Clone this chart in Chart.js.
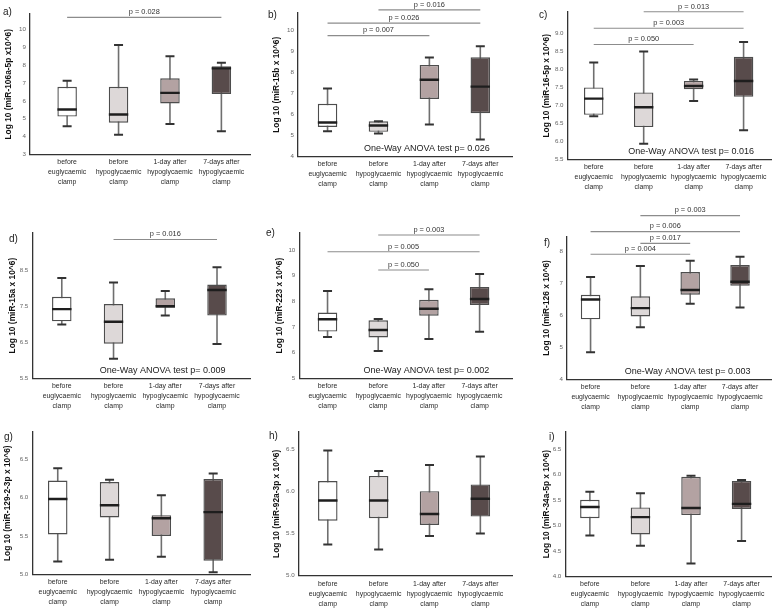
<!DOCTYPE html>
<html><head><meta charset="utf-8">
<script src="https://cdn.jsdelivr.net/npm/chart.js@4.4.0/dist/chart.umd.min.js"></script>
<style>
html,body{margin:0;padding:0;background:#fff;width:784px;height:612px;overflow:hidden}
body{position:relative}
canvas{position:absolute}
.lt{position:absolute;font-size:10px;color:#222;line-height:10px;white-space:nowrap}
</style></head><body>
<script>
const FONT = "'Liberation Sans',Arial,sans-serif";

const categories = [
  ['before', 'euglycaemic', 'clamp'],
  ['before', 'hypoglycaemic', 'clamp'],
  ['1-day after', 'hypoglycaemic', 'clamp'],
  ['7-days after', 'hypoglycaemic', 'clamp']
];
const groupPos = [1, 2, 3, 4];

// a) miR-106a-5p
const a_min = [4.58, 4.10, 4.71, 4.30];
const a_q1  = [5.12, 4.78, 5.86, 6.38];
const a_med = [5.52, 5.24, 6.45, 7.82];
const a_q3  = [6.79, 6.79, 7.26, 7.94];
const a_max = [7.12, 9.12, 8.50, 8.13];
const a_ticks = [3, 4, 5, 6, 7, 8, 9, 10];
const a_pairs = [[1, 4]];
const a_pvals = ['p = 0.028'];
const a_anova = '';

// b) miR-15b
const b_min = [5.20, 5.09, 5.52, 4.81];
const b_q1  = [5.40, 5.17, 6.73, 6.05];
const b_med = [5.61, 5.47, 7.64, 7.31];
const b_q3  = [6.50, 5.67, 8.34, 8.70];
const b_max = [7.22, 5.67, 8.69, 9.23];
const b_ticks = [4, 5, 6, 7, 8, 9, 10];
const b_pairs = [[1, 3], [1, 4], [2, 4]];
const b_pvals = ['p = 0.007', 'p = 0.026', 'p = 0.016'];
const b_anova = 'One-Way ANOVA test p= 0.026';

// c) miR-16-5p
const c_min = [6.70, 5.94, 7.12, 6.31];
const c_q1  = [6.74, 6.40, 7.45, 7.24];
const c_med = [7.19, 6.95, 7.54, 7.68];
const c_q3  = [7.50, 7.36, 7.68, 8.35];
const c_max = [8.19, 8.50, 7.72, 8.76];
const c_ticks = [5.5, 6.0, 6.5, 7.0, 7.5, 8.0, 8.5, 9.0];
const c_pairs = [[1, 3], [1, 4], [2, 4]];
const c_pvals = ['p = 0.050', 'p = 0.003', 'p = 0.013'];
const c_anova = 'One-Way ANOVA test p= 0.016';

// d) miR-15a
const d_min = [6.99, 6.04, 7.24, 6.45];
const d_q1  = [7.08, 6.46, 7.46, 7.24];
const d_med = [7.42, 7.07, 7.50, 7.95];
const d_q3  = [7.76, 7.56, 7.72, 8.10];
const d_max = [8.28, 8.16, 7.92, 8.58];
const d_ticks = [5.5, 6.5, 7.5, 8.5];
const d_pairs = [[2, 4]];
const d_pvals = ['p = 0.016'];
const d_anova = 'One-Way ANOVA test p= 0.009';

// e) miR-223
const e_min = [6.61, 6.06, 6.53, 6.81];
const e_q1  = [6.82, 6.59, 7.44, 7.86];
const e_med = [7.30, 6.88, 7.71, 8.09];
const e_q3  = [7.56, 7.26, 8.06, 8.56];
const e_max = [8.40, 7.31, 8.47, 9.06];
const e_ticks = [5, 6, 7, 8, 9, 10];
const e_pairs = [[2, 3], [1, 4], [2, 4]];
const e_pvals = ['p = 0.050', 'p = 0.005', 'p = 0.003'];
const e_anova = 'One-Way ANOVA test p= 0.002';

// f) miR-126
const f_min = [4.85, 5.63, 6.37, 6.25];
const f_q1  = [5.88, 5.97, 6.65, 6.93];
const f_med = [6.50, 6.23, 6.80, 7.06];
const f_q3  = [6.65, 6.60, 7.36, 7.58];
const f_max = [7.21, 7.55, 7.72, 7.84];
const f_ticks = [4, 5, 6, 7, 8];
const f_pairs = [[1, 3], [2, 3], [1, 4], [2, 4]];
const f_pvals = ['p = 0.004', 'p = 0.017', 'p = 0.006', 'p = 0.003'];
const f_anova = 'One-Way ANOVA test p= 0.003';

// g) miR-129-2-3p
const g_min = [5.17, 5.19, 5.23, 5.03];
const g_q1  = [5.52, 5.74, 5.50, 5.18];
const g_med = [5.98, 5.90, 5.73, 5.81];
const g_q3  = [6.22, 6.20, 5.77, 6.24];
const g_max = [6.38, 6.23, 6.03, 6.31];
const g_ticks = [5.0, 5.5, 6.0, 6.5];

// h) miR-92a-3p
const h_min = [5.37, 5.31, 5.47, 5.50];
const h_q1  = [5.65, 5.68, 5.60, 5.70];
const h_med = [5.89, 5.89, 5.73, 5.91];
const h_q3  = [6.12, 6.18, 6.00, 6.08];
const h_max = [6.48, 6.24, 6.31, 6.41];
const h_ticks = [5.0, 5.5, 6.0, 6.5];

// i) miR-34a-5p
const i_min = [4.80, 4.60, 4.25, 4.69];
const i_q1  = [5.14, 4.82, 5.20, 5.32];
const i_med = [5.36, 5.16, 5.34, 5.42];
const i_q3  = [5.50, 5.35, 5.95, 5.87];
const i_max = [5.66, 5.63, 5.97, 5.89];
const i_ticks = [4.0, 4.5, 5.0, 5.5, 6.0, 6.5];

const fills = ['#ffffff', '#ddd8d8', '#b3a2a2', '#584b4b'];

const panels = [
  {letter:'a)', title:'Log 10 (miR-106a-5p x10^6)', min:a_min,q1:a_q1,med:a_med,q3:a_q3,max:a_max,ticks:a_ticks,dec:0,pairs:a_pairs,pvals:a_pvals,anova:a_anova,
   lay:{cx:0,cy:0,cw:263,ch:192,L:30,T:14,R:262,B:154.5,ymin:3,ymax:10.86,xmin:0.278,xmax:4.574,tOff:9,lx:3,ly:7,bY:[10.67]}},
  {letter:'b)', title:'Log 10 (miR-15b x 10^6)', min:b_min,q1:b_q1,med:b_med,q3:b_q3,max:b_max,ticks:b_ticks,dec:0,pairs:b_pairs,pvals:b_pvals,anova:b_anova,
   lay:{cx:263,cy:0,cw:262,ch:192,L:298,T:13,R:524,B:156.5,ymin:4,ymax:10.8,xmin:0.42,xmax:4.64,tOff:14,lx:268,ly:10,bY:[9.73,10.32,10.95]}},
  {letter:'c)', title:'Log 10 (miR-16-5p x 10^6)', min:c_min,q1:c_q1,med:c_med,q3:c_q3,max:c_max,ticks:c_ticks,dec:1,pairs:c_pairs,pvals:c_pvals,anova:c_anova,
   lay:{cx:525,cy:0,cw:259,ch:192,L:567.5,T:12,R:784,B:159.5,ymin:5.5,ymax:9.59,xmin:0.475,xmax:4.567,tOff:22,lx:539,ly:10,bY:[8.69,9.14,9.6]}},
  {letter:'d)', title:'Log 10 (miR-15a x 10^6)', min:d_min,q1:d_q1,med:d_med,q3:d_q3,max:d_max,ticks:d_ticks,dec:1,pairs:d_pairs,pvals:d_pvals,anova:d_anova,
   lay:{cx:0,cy:192,cw:263,ch:222,L:32.3,T:233,R:260,B:378.3,ymin:5.5,ymax:9.53,xmin:0.43,xmax:4.655,tOff:13,lx:9,ly:234,bY:[9.35]}},
  {letter:'e)', title:'Log 10 (miR-223 x 10^6)', min:e_min,q1:e_q1,med:e_med,q3:e_q3,max:e_max,ticks:e_ticks,dec:0,pairs:e_pairs,pvals:e_pvals,anova:e_anova,
   lay:{cx:263,cy:192,cw:262,ch:222,L:299.3,T:233,R:524,B:378.3,ymin:5,ymax:10.66,xmin:0.443,xmax:4.657,tOff:17,lx:266,ly:228,bY:[9.22,9.93,10.58]}},
  {letter:'f)', title:'Log 10 (miR-126 x 10^6)', min:f_min,q1:f_q1,med:f_med,q3:f_q3,max:f_max,ticks:f_ticks,dec:0,pairs:f_pairs,pvals:f_pvals,anova:f_anova,
   lay:{cx:525,cy:192,cw:259,ch:222,L:567,T:236.7,R:784,B:379.3,ymin:4,ymax:8.47,xmin:0.527,xmax:4.64,tOff:22,lx:544,ly:238,bY:[7.92,8.26,8.63,9.13]}},
  {letter:'g)', title:'Log 10 (miR-129-2-3p x 10^6)', min:g_min,q1:g_q1,med:g_med,q3:g_q3,max:g_max,ticks:g_ticks,dec:1,pairs:[],pvals:[],anova:'',
   lay:{cx:0,cy:414,cw:263,ch:198,L:32.3,T:432,R:260,B:574.5,ymin:5,ymax:6.85,xmin:0.509,xmax:4.728,tOff:8,lx:4,ly:432,bY:[]}},
  {letter:'h)', title:'Log 10 (miR-92a-3p x 10^6)', min:h_min,q1:h_q1,med:h_med,q3:h_q3,max:h_max,ticks:h_ticks,dec:1,pairs:[],pvals:[],anova:'',
   lay:{cx:263,cy:414,cw:262,ch:198,L:298.7,T:432,R:524,B:575.7,ymin:5,ymax:6.7,xmin:0.428,xmax:4.64,tOff:14,lx:269,ly:431,bY:[]}},
  {letter:'i)', title:'Log 10 (miR-34a-5p x 10^6)', min:i_min,q1:i_q1,med:i_med,q3:i_q3,max:i_max,ticks:i_ticks,dec:1,pairs:[],pvals:[],anova:'',
   lay:{cx:525,cy:414,cw:259,ch:198,L:565.3,T:432,R:784,B:576.3,ymin:4,ymax:6.83,xmin:0.514,xmax:4.6,tOff:22,lx:549,ly:432,bY:[]}}
];

const annotPlugin = {
  id: 'annot',
  afterDraw(chart, args, opts) {
    const {ctx, chartArea} = chart;
    const x = chart.scales.x, y = chart.scales.y;
    ctx.save();
    (opts.pairs || []).forEach((pr, k) => {
      const yy = y.getPixelForValue(opts.levels[k]);
      const x1 = x.getPixelForValue(pr[0]), x2 = x.getPixelForValue(pr[1]);
      ctx.strokeStyle = '#8c8c8c';
      ctx.lineWidth = 1.1;
      ctx.beginPath(); ctx.moveTo(x1, yy); ctx.lineTo(x2, yy); ctx.stroke();
      ctx.fillStyle = '#333';
      ctx.font = "7.4px " + FONT;
      ctx.textAlign = 'center';
      ctx.textBaseline = 'bottom';
      ctx.fillText(opts.labels[k], (x1 + x2) / 2, yy - 1.5);
    });
    if (opts.anova) {
      ctx.fillStyle = '#222';
      ctx.font = "9px " + FONT;
      ctx.textAlign = 'center';
      ctx.textBaseline = 'middle';
      ctx.fillText(opts.anova, x.getPixelForValue(2.95), chartArea.bottom - 8);
    }
    ctx.restore();
  }
};

panels.forEach(p => {
  const L = p.lay;
  const cv = document.createElement('canvas');
  cv.width = L.cw; cv.height = L.ch;
  cv.style.left = L.cx + 'px'; cv.style.top = L.cy + 'px';
  cv.style.width = L.cw + 'px'; cv.style.height = L.ch + 'px';
  document.body.appendChild(cv);
  const lt = document.createElement('div');
  lt.className = 'lt'; lt.textContent = p.letter;
  lt.style.left = L.lx + 'px'; lt.style.top = L.ly + 'px';
  lt.style.fontFamily = FONT;
  document.body.appendChild(lt);

  const pts = (arr) => groupPos.map((g, i) => ({x: g, y: arr[i]}));
  const rng = (lo, hi) => groupPos.map((g, i) => ({x: g, y: [lo[i], hi[i]]}));

  new Chart(cv, {
    type: 'bar',
    data: {
      datasets: [
        { type: 'bar', data: rng(p.min, p.max), grouped: false, maxBarThickness: 1.6,
          backgroundColor: '#6f6f6f', borderWidth: 0, order: 3 },
        { type: 'bar', data: rng(p.q1, p.q3), grouped: false, maxBarThickness: 19.5,
          backgroundColor: fills, borderColor: '#4d4d4d', borderWidth: 1.4, borderSkipped: false, order: 2 },
        { type: 'line', data: pts(p.min).concat(pts(p.max)), showLine: false, pointStyle: 'line',
          pointRadius: 4.5, pointBorderWidth: 2, pointBorderColor: '#333', order: 1 },
        { type: 'line', data: pts(p.med), showLine: false, pointStyle: 'line',
          pointRadius: 9.7, pointBorderWidth: 2.4, pointBorderColor: '#1e1e1e', order: 0 }
      ]
    },
    options: {
      responsive: false,
      devicePixelRatio: 1,
      animation: false,
      events: [],
      layout: { padding: { left: 0, top: L.T - L.cy, right: L.cx + L.cw - L.R, bottom: 0 } },
      plugins: {
        legend: { display: false },
        tooltip: { enabled: false },
        annot: { pairs: p.pairs, labels: p.pvals, levels: L.bY, anova: p.anova }
      },
      scales: {
        x: {
          type: 'linear', offset: false, min: L.xmin, max: L.xmax,
          grid: { display: false, drawTicks: false },
          border: { display: true, color: '#333', width: 1.3 },
          afterBuildTicks: (s) => { s.ticks = groupPos.map(v => ({value: v})); },
          afterFit: (s) => { s.height = L.cy + L.ch - L.B; },
          ticks: {
            autoSkip: false, maxRotation: 0, padding: 3,
            color: '#2a2a2a', font: { family: FONT, size: 6.9, lineHeight: '10px' },
            callback: (v) => categories[Math.round(v) - 1]
          }
        },
        y: {
          type: 'linear', min: L.ymin, max: L.ymax, beginAtZero: false,
          grid: { display: false, drawTicks: false },
          border: { display: true, color: '#333', width: 1.3 },
          afterBuildTicks: (s) => { s.ticks = p.ticks.map(v => ({value: v})); },
          afterFit: (s) => { s.width = L.L - L.cx; },
          ticks: {
            padding: 4, color: '#666', font: { family: FONT, size: 6.2 },
            callback: (v) => Number(v).toFixed(p.dec)
          },
          title: {
            display: true, text: p.title, color: '#111',
            font: { family: FONT, size: 8.4, weight: 'bold', lineHeight: 1.2 },
            padding: { top: L.tOff - 5, bottom: 0 }
          }
        }
      }
    },
    plugins: [annotPlugin]
  });
});
</script>
</body></html>
